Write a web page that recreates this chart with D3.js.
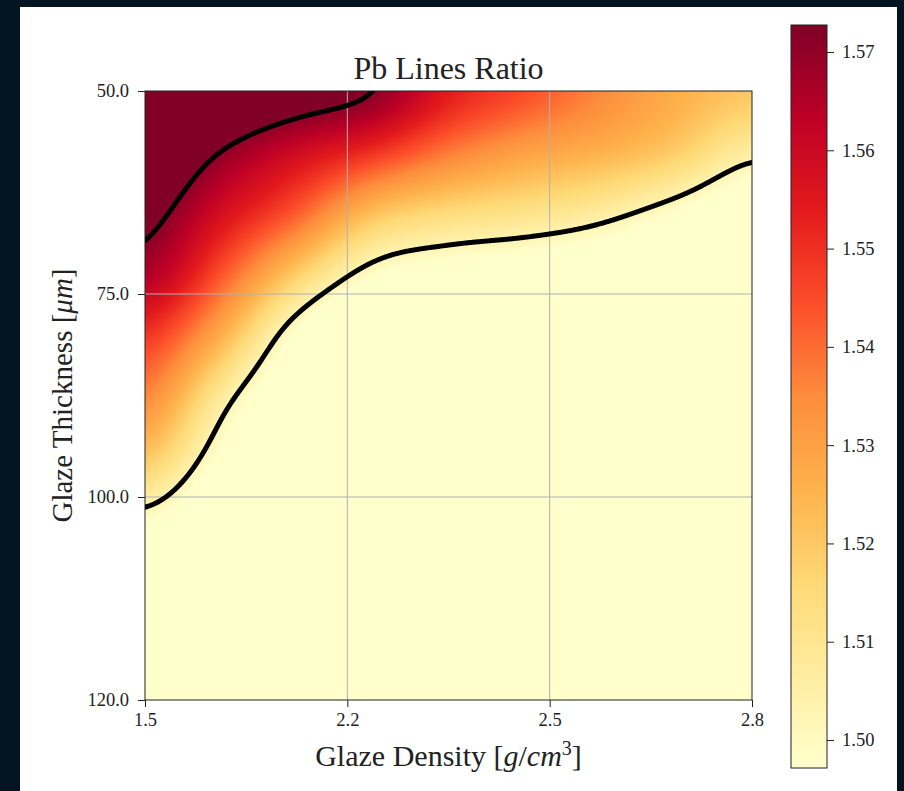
<!DOCTYPE html>
<html>
<head>
<meta charset="utf-8">
<script src="https://cdn.jsdelivr.net/npm/d3@7"></script>
<style>
    body { margin: 0; background: #051421; }
    svg { display: block; }
    text { font-family: "Liberation Serif", "DejaVu Serif", serif; fill: #222; }
</style>
</head>
<body>
<script>
// axis labels (the axes are index based: the ticks sit evenly spaced)
var densityLabels = ['1.5', '2.2', '2.5', '2.8'];
var thicknessLabels = ['50.0', '75.0', '100.0', '120.0'];

// sample positions of the ratio grid, in axis index units
var gridX = [0, 0.375, 0.75, 1.125, 1.5, 1.875, 2.25, 2.625, 3];
var gridY = [0, 0.3, 0.6, 0.9, 1.2, 1.5, 1.8, 2.1, 2.4, 2.7, 3];

// Pb line ratio (rows = thickness, cols = density);
// values under 1.497 only show as the palest colour
var ratio = [
    [1.598, 1.5865, 1.579, 1.5728, 1.555, 1.546, 1.536, 1.527, 1.521],
    [1.585, 1.5705, 1.559, 1.550, 1.538, 1.530, 1.526, 1.5196, 1.5058],
    [1.5755, 1.558, 1.543, 1.522, 1.515, 1.512, 1.507, 1.4971, 1.4844],
    [1.567, 1.544, 1.519, 1.4983, 1.4922, 1.489, 1.4846, 1.4744, 1.463],
    [1.550, 1.527, 1.4955, 1.476, 1.4678, 1.4646, 1.4612, 1.4518, 1.4418],
    [1.537, 1.508, 1.4826, 1.458, 1.4436, 1.4404, 1.438, 1.4294, 1.4206],
    [1.522, 1.4955, 1.4696, 1.444, 1.4194, 1.4162, 1.4146, 1.407, 1.3994],
    [1.5002, 1.4806, 1.4566, 1.432, 1.395, 1.3918, 1.3914, 1.3842, 1.378],
    [1.4758, 1.464, 1.439, 1.419, 1.3706, 1.3674, 1.368, 1.3618, 1.3566],
    [1.4514, 1.443, 1.419, 1.403, 1.3462, 1.343, 1.3446, 1.339, 1.335],
    [1.427, 1.4206, 1.399, 1.387, 1.3218, 1.3186, 1.3214, 1.3166, 1.3138]
];

var contourLevels = [1.503, 1.571];
var colorbarTicks = [1.50, 1.51, 1.52, 1.53, 1.54, 1.55, 1.56, 1.57];
var vmin = 1.49715, vmax = 1.57275;

var ramp = ['#ffffcc', '#ffeda0', '#fed976', '#feb24c', '#fd8d3c',
            '#fc4e2a', '#e31a1c', '#bd0026', '#800026'];

(function() {
    var width = 904, height = 791;
    var pL = 145, pR = 752, pT = 91, pB = 700;

    var svg = d3.select('body').append('svg')
        .attr('width', width)
        .attr('height', height);

    svg.append('rect')
        .attr('x', 20).attr('y', 7)
        .attr('width', 877).attr('height', 784)
        .attr('fill', '#fff');

    var x = d3.scaleLinear().domain([0, 3]).range([pL, pR]);
    var y = d3.scaleLinear().domain([0, 3]).range([pT, pB]);

    var color = d3.scaleLinear()
        .domain(ramp.map(function(c, i) { return vmin + i / (ramp.length - 1) * (vmax - vmin); }))
        .range(ramp)
        .clamp(true);

    // bicubic (catmull-rom) lookup, like imshow interpolation
    function cubic(p0, p1, p2, p3, t) {
        return p1 + 0.5 * t * (p2 - p0 + t * (2 * p0 - 5 * p1 + 4 * p2 - p3 + t * (3 * (p1 - p2) + p3 - p0)));
    }
    function clampi(i, n) { return Math.max(0, Math.min(n - 1, i)); }
    function sample(px, py) {
        var nc = gridX.length, nr = gridY.length;
        var gx = (x.invert(px) - gridX[0]) / (gridX[1] - gridX[0]);
        var gy = (y.invert(py) - gridY[0]) / (gridY[1] - gridY[0]);
        gx = Math.max(0, Math.min(nc - 1, gx));
        gy = Math.max(0, Math.min(nr - 1, gy));
        var ix = Math.min(Math.floor(gx), nc - 2), iy = Math.min(Math.floor(gy), nr - 2);
        var tx = gx - ix, ty = gy - iy;
        var rows = [];
        for (var k = -1; k <= 2; k++) {
            var r = ratio[clampi(iy + k, nr)];
            rows.push(cubic(r[clampi(ix - 1, nc)], r[ix], r[ix + 1], r[clampi(ix + 2, nc)], tx));
        }
        return cubic(rows[0], rows[1], rows[2], rows[3], ty);
    }

    // running box blur, one direction
    function blurPass(data, fw, fh, r, horizontal) {
        var out = new Float64Array(data.length);
        var n = horizontal ? fw : fh, m = horizontal ? fh : fw;
        var sN = horizontal ? 1 : fw, sM = horizontal ? fw : 1;
        for (var q = 0; q < m; q++) {
            var base = q * sM, sum = 0, p;
            for (p = -r; p <= r; p++) sum += data[base + clampi(p, n) * sN];
            for (p = 0; p < n; p++) {
                out[base + p * sN] = sum / (2 * r + 1);
                sum += data[base + clampi(p + r + 1, n) * sN] - data[base + clampi(p - r, n) * sN];
            }
        }
        return out;
    }

    // pixel field over the plot plus a margin, smoothed a little
    var w = pR - pL, h = pB - pT, pad = 50, rad = 13;
    var fw = w + 2 * pad, fh = h + 2 * pad;
    var field = new Float64Array(fw * fh);
    for (var b = 0; b < fh; b++) {
        for (var a = 0; a < fw; a++) {
            field[b * fw + a] = sample(pL - pad + a + 0.5, pT - pad + b + 0.5);
        }
    }
    for (var pass = 0; pass < 3; pass++) {
        field = blurPass(field, fw, fh, rad, true);
        field = blurPass(field, fw, fh, rad, false);
    }

    // heat map image
    var canvas = document.createElement('canvas');
    canvas.width = w; canvas.height = h;
    var ctx = canvas.getContext('2d');
    var img = ctx.createImageData(w, h);
    for (var j = 0; j < h; j++) {
        for (var i = 0; i < w; i++) {
            var c = d3.rgb(color(field[(j + pad) * fw + i + pad]));
            var o = (j * w + i) * 4;
            img.data[o] = c.r; img.data[o + 1] = c.g; img.data[o + 2] = c.b; img.data[o + 3] = 255;
        }
    }
    ctx.putImageData(img, 0, 0);

    svg.append('image')
        .attr('x', pL).attr('y', pT)
        .attr('width', w).attr('height', h)
        .attr('preserveAspectRatio', 'none')
        .attr('href', canvas.toDataURL());

    // grid
    var grid = svg.append('g').attr('stroke', '#b0b0b0').attr('stroke-width', 1);
    grid.selectAll('line.v').data([1, 2]).enter().append('line')
        .attr('x1', function(d) { return x(d); }).attr('x2', function(d) { return x(d); })
        .attr('y1', pT).attr('y2', pB);
    grid.selectAll('line.h').data([1, 2]).enter().append('line')
        .attr('y1', function(d) { return y(d); }).attr('y2', function(d) { return y(d); })
        .attr('x1', pL).attr('x2', pR);

    // contour lines
    svg.append('clipPath').attr('id', 'plotclip')
        .append('rect').attr('x', pL).attr('y', pT).attr('width', w).attr('height', h);

    var cfield = Array.from(field);
    for (var a2 = 0; a2 < fw; a2++) { cfield[a2] = 0; cfield[(fh - 1) * fw + a2] = 0; }
    for (var b2 = 0; b2 < fh; b2++) { cfield[b2 * fw] = 0; cfield[b2 * fw + fw - 1] = 0; }
    var contours = d3.contours().size([fw, fh]).thresholds(contourLevels)(cfield);
    var proj = d3.geoIdentity().translate([pL - pad, pT - pad]);

    svg.append('g')
        .attr('clip-path', 'url(#plotclip)')
        .selectAll('path').data(contours).enter().append('path')
        .attr('d', d3.geoPath(proj))
        .attr('fill', 'none')
        .attr('stroke', '#000')
        .attr('stroke-width', 5)
        .attr('stroke-linejoin', 'round');

    // frame
    svg.append('rect')
        .attr('x', pL).attr('y', pT).attr('width', w).attr('height', h)
        .attr('fill', 'none').attr('stroke', '#222').attr('stroke-width', 1);

    // axes
    var xAxis = svg.append('g')
        .attr('transform', 'translate(0,' + pB + ')')
        .call(d3.axisBottom(x).tickValues([0, 1, 2, 3])
            .tickFormat(function(d) { return densityLabels[d]; }).tickSize(7));
    xAxis.select('.domain').remove();
    xAxis.selectAll('text').attr('dy', null).attr('y', 26)
        .style('font-size', '18.5px').attr('fill', '#222');

    var yAxis = svg.append('g')
        .attr('transform', 'translate(' + pL + ',0)')
        .call(d3.axisLeft(y).tickValues([0, 1, 2, 3])
            .tickFormat(function(d) { return thicknessLabels[d]; }).tickSize(7).tickPadding(9));
    yAxis.select('.domain').remove();
    yAxis.selectAll('text').style('font-size', '18.5px').attr('fill', '#222');
    svg.selectAll('.tick line').attr('stroke', '#222');
    svg.selectAll('.tick text').style('font-family', '"Liberation Serif", serif');

    // titles
    svg.append('text')
        .attr('x', (pL + pR) / 2).attr('y', 79)
        .attr('text-anchor', 'middle')
        .style('font-size', '32px')
        .text('Pb Lines Ratio');

    var xl = svg.append('text')
        .attr('x', (pL + pR) / 2).attr('y', 766)
        .attr('text-anchor', 'middle')
        .style('font-size', '30px');
    xl.append('tspan').text('Glaze Density [');
    xl.append('tspan').style('font-style', 'italic').text('g');
    xl.append('tspan').text('/');
    xl.append('tspan').style('font-style', 'italic').text('cm');
    xl.append('tspan').attr('dy', -11).style('font-size', '20px').text('3');
    xl.append('tspan').attr('dy', 11).text(']');

    var yl = svg.append('text')
        .attr('transform', 'translate(72,' + (pT + pB) / 2 + ') rotate(-90)')
        .attr('text-anchor', 'middle')
        .style('font-size', '29px');
    yl.append('tspan').text('Glaze Thickness [');
    yl.append('tspan').style('font-style', 'italic').text('μm');
    yl.append('tspan').text(']');

    // colorbar
    var cbX = 791, cbW = 36, cbTop = 25, cbBottom = 768;
    var cb = d3.scaleLinear().domain([vmin, vmax]).range([cbBottom, cbTop]);

    var grad = svg.append('defs').append('linearGradient')
        .attr('id', 'cbgrad')
        .attr('x1', 0).attr('y1', 1).attr('x2', 0).attr('y2', 0);
    grad.selectAll('stop').data(ramp).enter().append('stop')
        .attr('offset', function(d, i) { return i / (ramp.length - 1); })
        .attr('stop-color', function(d) { return d; });

    svg.append('rect')
        .attr('x', cbX).attr('y', cbTop)
        .attr('width', cbW).attr('height', cbBottom - cbTop)
        .attr('fill', 'url(#cbgrad)')
        .attr('stroke', '#222').attr('stroke-width', 1);

    var cAxis = svg.append('g')
        .attr('transform', 'translate(' + (cbX + cbW) + ',0)')
        .call(d3.axisRight(cb).tickValues(colorbarTicks)
            .tickFormat(d3.format('.2f')).tickSize(7).tickPadding(8));
    cAxis.select('.domain').remove();
    cAxis.selectAll('line').attr('stroke', '#222');
    cAxis.selectAll('text').style('font-size', '18.5px')
        .style('font-family', '"Liberation Serif", serif').attr('fill', '#222');
})();
</script>
</body>
</html>
